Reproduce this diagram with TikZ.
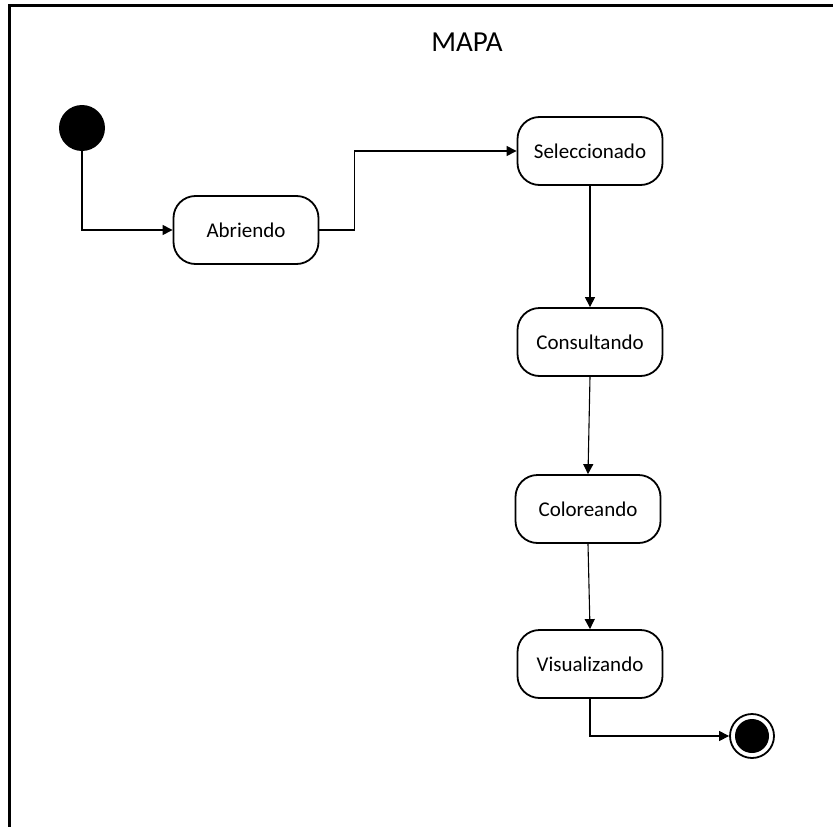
\documentclass[tikz,border=0pt]{standalone}
\usepackage{fontspec}
\setmainfont{Carlito}
\usetikzlibrary{arrows.meta}
\begin{document}
\begin{tikzpicture}[x=1pt,y=-1pt,
  state/.style={draw,line width=1.8pt,rounded corners=22pt,minimum width=145pt,
    minimum height=68pt,inner sep=0pt,font=\fontsize{21}{25}\selectfont},
  flow/.style={line width=1.1pt,-{Triangle[length=10pt,width=10pt]}},
  initial/.style={circle,fill=black,minimum size=46pt,inner sep=0pt},
  final/.style={circle,draw,line width=1.8pt,minimum size=44pt,inner sep=0pt,
    path picture={\fill[black] (path picture bounding box.center) circle (17pt);}}]
  \useasboundingbox (0,0) rectangle (833,827);
  % frame
  \draw[line width=2.5pt] (9.5,827) -- (9.5,5.5) -- (833,5.5);
  \node (title) at (467,42) {\fontsize{29}{34}\selectfont MAPA};
  % states
  \node[initial] (start) at (82,128) {};
  \node[state] (abr) at (246,230) {Abriendo};
  \node[state] (sel) at (590,151) {Seleccionado};
  \node[state] (cons) at (590,342) {Consultando};
  \node[state] (colo) at (588,509) {Coloreando};
  \node[state] (vis) at (590,664) {Visualizando};
  \node[final] (fin) at (752,736) {};
  % transitions
  \draw[flow] (start.south) |- (abr.west);
  \draw[flow] (abr.east) -- ++(35,0) |- (sel.west);
  \draw[flow] (sel.south) -- (cons.north);
  \draw[flow] (cons.south) -- (colo.north);
  \draw[flow] (colo.south) -- (vis.north);
  \draw[flow] (vis.south) |- (fin.west);
\end{tikzpicture}
\end{document}
